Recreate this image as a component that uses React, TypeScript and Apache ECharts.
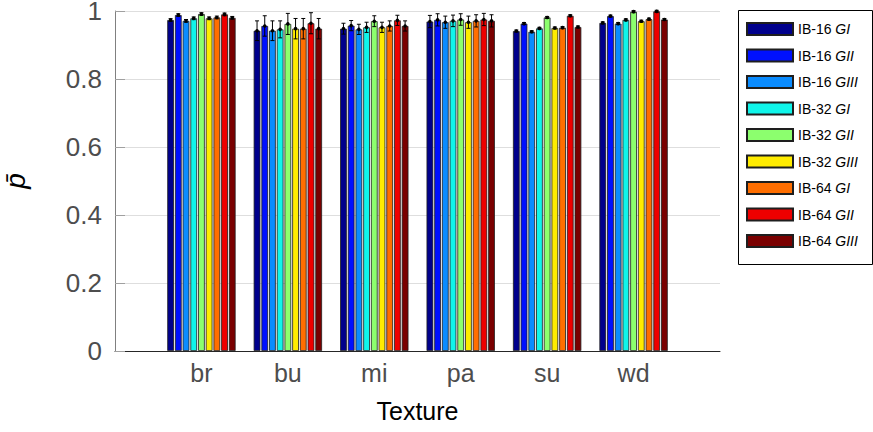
import React, { useEffect, useRef } from "react";
import * as echarts from "echarts";

const categories = ["br", "bu", "mi", "pa", "su", "wd"];
const seriesNames = [
  "IB-16 GI", "IB-16 GII", "IB-16 GIII",
  "IB-32 GI", "IB-32 GII", "IB-32 GIII",
  "IB-64 GI", "IB-64 GII", "IB-64 GIII",
];
const seriesColors = [
  "#00008c", "#0010ff", "#0a8cff",
  "#10f5ea", "#8cff6e", "#ffec00",
  "#ff6e00", "#ee0000", "#7a0000",
];

// mean values per series, ordered as categories
const ib16GI = [0.9735, 0.942, 0.948, 0.969, 0.941, 0.965];
const ib16GII = [0.988, 0.956, 0.957, 0.974, 0.963, 0.985];
const ib16GIII = [0.971, 0.942, 0.946, 0.967, 0.939, 0.963];
const ib32GI = [0.9785, 0.946, 0.952, 0.971, 0.949, 0.974];
const ib32GII = [0.991, 0.962, 0.97, 0.975, 0.981, 0.998];
const ib32GIII = [0.9785, 0.948, 0.952, 0.967, 0.95, 0.97];
const ib64GI = [0.981, 0.948, 0.956, 0.971, 0.951, 0.976];
const ib64GII = [0.99, 0.964, 0.9725, 0.975, 0.986, 0.999];
const ib64GIII = [0.98, 0.948, 0.956, 0.971, 0.953, 0.975];

// error half-widths per series
const errIb16GI = [0.004, 0.029, 0.016, 0.018, 0.003, 0.003];
const errIb16GII = [0.004, 0.03, 0.015, 0.018, 0.003, 0.003];
const errIb16GIII = [0.004, 0.029, 0.015, 0.018, 0.003, 0.003];
const errIb32GI = [0.004, 0.025, 0.015, 0.017, 0.003, 0.003];
const errIb32GII = [0.004, 0.031, 0.016, 0.017, 0.003, 0.003];
const errIb32GIII = [0.004, 0.03, 0.015, 0.018, 0.003, 0.003];
const errIb64GI = [0.004, 0.03, 0.015, 0.018, 0.003, 0.003];
const errIb64GII = [0.004, 0.031, 0.015, 0.018, 0.003, 0.003];
const errIb64GIII = [0.004, 0.03, 0.015, 0.018, 0.003, 0.003];

const yTicks = [0, 0.2, 0.4, 0.6, 0.8, 1];

const values = [ib16GI, ib16GII, ib16GIII, ib32GI, ib32GII, ib32GIII, ib64GI, ib64GII, ib64GIII];
const errors = [errIb16GI, errIb16GII, errIb16GIII, errIb32GI, errIb32GII, errIb32GIII, errIb64GI, errIb64GII, errIb64GIII];

const FONT = "'Liberation Sans', Arial, Helvetica, sans-serif";
const BAR_W = 6.7;
const BAR_GAP = 0.15;
const PITCH = BAR_W * (1 + BAR_GAP);

export default function App() {
  const ref = useRef<HTMLDivElement>(null);
  useEffect(() => {
    if (!ref.current) return;
    const chart = echarts.init(ref.current, undefined, { renderer: "svg" });

    const barSeries = seriesNames.map((name, s) => ({
      name,
      type: "bar",
      barWidth: BAR_W,
      barGap: `${BAR_GAP * 100}%`,
      itemStyle: { color: seriesColors[s], borderColor: "#1e1e1e", borderWidth: 0.8 },
      data: values[s].map((v, c) => [c + 1, v]),
      z: 2,
    }));

    const errData: number[][] = [];
    values.forEach((arr, s) =>
      arr.forEach((v, c) => errData.push([c + 1, v, errors[s][c], s]))
    );

    const errSeries = {
      type: "custom",
      name: "err",
      z: 5,
      encode: { x: 0, y: 1 },
      data: errData,
      renderItem: (params: any, api: any) => {
        const x = api.value(0);
        const v = api.value(1);
        const e = api.value(2);
        const s = api.value(3);
        const c = api.coord([x, v]);
        const t = api.coord([x, v + e]);
        const b = api.coord([x, v - e]);
        const cx = c[0] + (s - (seriesNames.length - 1) / 2) * PITCH;
        const st = { stroke: "#000", lineWidth: 1 };
        return {
          type: "group",
          children: [
            { type: "line", shape: { x1: cx, y1: t[1], x2: cx, y2: b[1] }, style: st },
            { type: "line", shape: { x1: cx - 2, y1: t[1], x2: cx + 2, y2: t[1] }, style: st },
            { type: "line", shape: { x1: cx - 2, y1: b[1], x2: cx + 2, y2: b[1] }, style: st },
            { type: "circle", shape: { cx, cy: c[1], r: 1.8 }, style: { fill: "#000" } },
          ],
        };
      },
    };

    chart.setOption({
      animation: false,
      backgroundColor: "#fff",
      grid: { left: 115, right: 153, top: 11, bottom: 81, outerBoundsMode: "none", containLabel: false },
      xAxis: {
        type: "value",
        min: 0,
        max: categories.length + 1,
        interval: 1,
        name: "Texture",
        nameLocation: "middle",
        nameGap: 47,
        nameTextStyle: { fontFamily: FONT, fontSize: 25, color: "#000" },
        axisLine: { show: true, onZero: false, lineStyle: { color: "#262626", width: 1 } },
        axisTick: { show: false },
        splitLine: { show: false },
        axisLabel: {
          fontFamily: FONT,
          fontSize: 25,
          color: "#4d4d4d",
          margin: 9,
          formatter: (v: number) => (v >= 1 && v <= categories.length ? categories[v - 1] : ""),
        },
      },
      yAxis: {
        type: "value",
        min: 0,
        max: 1,
        interval: 0.2,
        name: "p\u0304",
        nameLocation: "middle",
        nameRotate: 90,
        nameGap: 88,
        nameTextStyle: { fontFamily: FONT, fontSize: 28, fontStyle: "italic", color: "#000", lineHeight: 24 },
        axisLine: { show: true, lineStyle: { color: "#808080", width: 1 } },
        axisTick: { show: true, inside: true, length: 10, lineStyle: { color: "#a0a0a0" } },
        splitLine: { show: true, lineStyle: { color: "#dedede", width: 1 } },
        axisLabel: {
          fontFamily: FONT,
          fontSize: 26,
          lineHeight: 20,
          color: "#4d4d4d",
          margin: 13,
          formatter: (v: number) => {
            const t = yTicks.find((k) => Math.abs(k - v) < 1e-9);
            return t === undefined ? "" : String(t);
          },
        },
      },
      legend: {
        data: seriesNames,
        orient: "vertical",
        left: 746,
        top: 22,
        itemWidth: 46,
        itemHeight: 12,
        itemGap: 12.5,
        icon: "rect",
        padding: 0,
        formatter: (name: string) => {
          const i = name.indexOf(" ");
          return `{n|${name.slice(0, i)} }{i|${name.slice(i + 1)}}`;
        },
        textStyle: {
          lineHeight: 12,
          rich: {
            n: { fontFamily: FONT, fontSize: 14, color: "#000", lineHeight: 12 },
            i: { fontFamily: FONT, fontSize: 14, fontStyle: "italic", color: "#000", lineHeight: 12 },
          },
        },
      },
      graphic: [
        {
          type: "rect",
          shape: { x: 738.5, y: 10.5, width: 134, height: 254 },
          style: { fill: "none", stroke: "#000", lineWidth: 1 },
          z: 10,
        },
      ],
      series: [...barSeries, errSeries],
    });

    return () => chart.dispose();
  }, []);

  return <div ref={ref} style={{ width: 873, height: 432, position: "absolute", left: 0, top: 0 }} />;
}
